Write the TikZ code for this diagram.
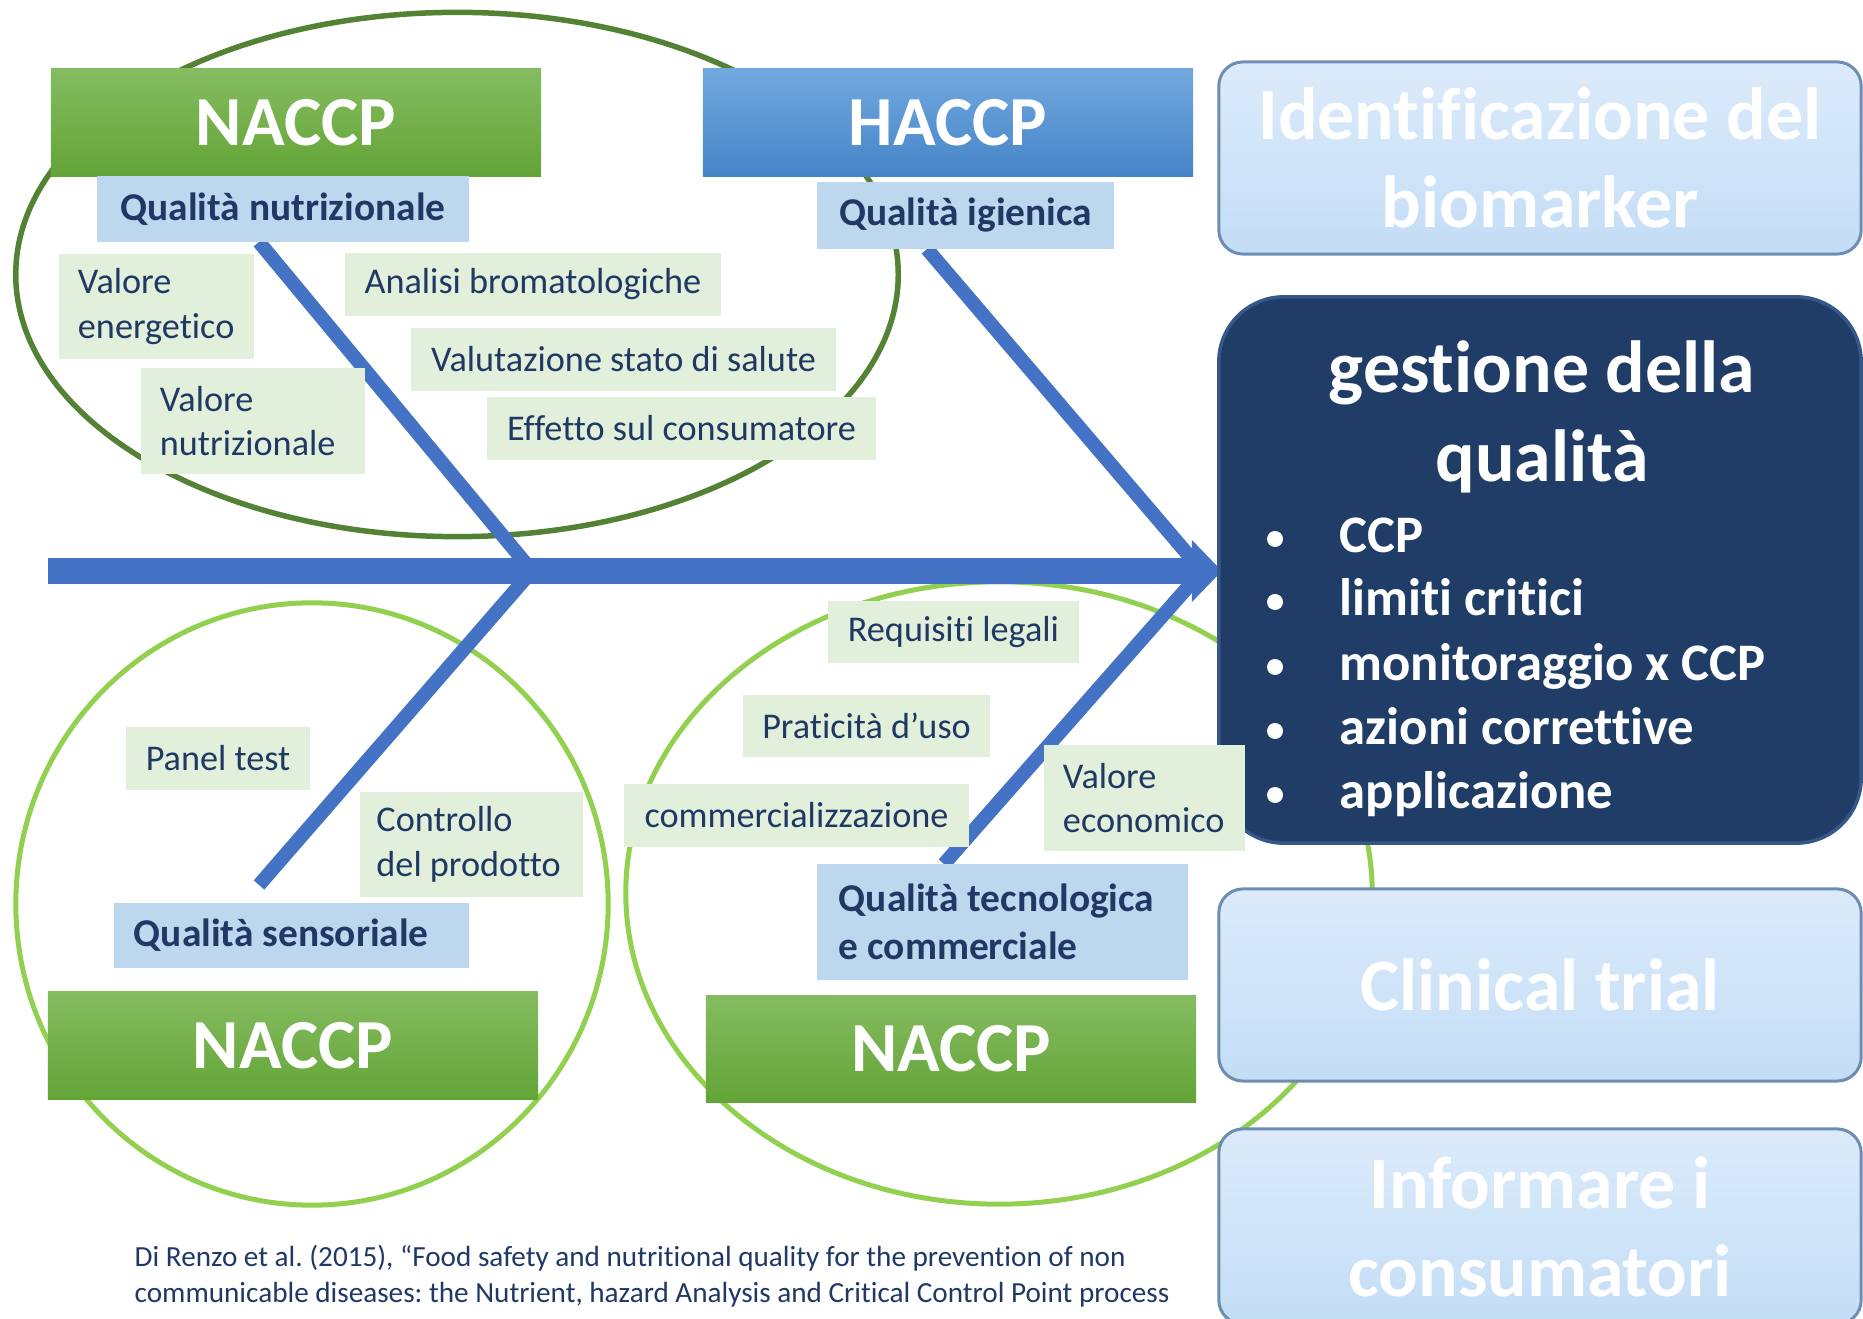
\documentclass[tikz,border=0pt]{standalone}
\usepackage{fontspec}
\setmainfont{Carlito}[Ligatures=NoCommon]
\usetikzlibrary{arrows.meta}
\frenchspacing

\definecolor{navy}{HTML}{1F3864}
\definecolor{labgreen}{HTML}{E2EFDA}
\definecolor{labblue}{HTML}{BDD7EE}
\definecolor{ringdark}{HTML}{548235}
\definecolor{ringlight}{HTML}{92D050}
\definecolor{spineblue}{HTML}{4472C4}
\definecolor{deepblue}{HTML}{1F3D66}
\definecolor{deepedge}{HTML}{35578A}
\definecolor{paleblue}{HTML}{C3DDF6}
\definecolor{paletop}{HTML}{DCEBFB}
\definecolor{paleedge}{HTML}{6E8DB3}
\definecolor{naccptop}{HTML}{85BC60}
\definecolor{naccpbot}{HTML}{63A437}
\definecolor{haccptop}{HTML}{72A9DF}
\definecolor{haccpbot}{HTML}{4584C8}

\tikzset{
	lab/.style={fill=labgreen, text=navy, inner sep=0pt, font=\fontsize{10.3}{12.6}\selectfont},
	qual/.style={fill=labblue, text=navy, inner sep=0pt, font=\bfseries\fontsize{11.2}{13.6}\selectfont},
	header/.style={text=white, inner sep=0pt, minimum width=4.9cm, minimum height=1.07cm, font=\bfseries\fontsize{20}{24}\selectfont},
	nacchead/.style={header, top color=naccptop, bottom color=naccpbot},
	hacchead/.style={header, top color=haccptop, bottom color=haccpbot},
	panel/.style={rounded corners=0.24cm, draw=paleedge, line width=0.03cm, top color=paletop, bottom color=paleblue, text=white, minimum width=6.42cm, align=center, inner sep=0pt, font=\bfseries\fontsize{21}{25}\selectfont},
	bone/.style={draw=spineblue, line width=0.14cm},
}

\begin{document}
\begin{tikzpicture}[x=0.01cm, y=-0.01cm]
	\useasboundingbox (0,0) rectangle (1863,1319);
	\clip (0,0) rectangle (1863,1319);
	%rings
	\draw[ringdark, line width=0.055cm] (457,274.5) ellipse [x radius=4.41cm, y radius=2.62cm];
	\draw[ringlight, line width=0.05cm] (312,904) ellipse [x radius=2.96cm, y radius=3.01cm];
	\draw[ringlight, line width=0.05cm] (999,893) ellipse [x radius=3.73cm, y radius=3.11cm];
	
	%headers
	\node[nacchead] (naccpnw) at (296,122.5) {NACCP};
	\node[hacchead] (haccp) at (948,122.5) {HACCP};
	\node[nacchead] (naccpsw) at (293,1045.5) {NACCP};
	\node[nacchead] (naccpse) at (951,1049) {NACCP};
	
	%bones
	\coordinate (tail) at (48,571);
	\coordinate (head) at (1222,571);
	\coordinate (jleft) at (532,571);
	\coordinate (jright) at (1202,571);
	\coordinate (nutrifoot) at (259,242);
	\coordinate (igienfoot) at (927,249);
	\coordinate (sensfoot) at (259,885);
	\coordinate (tecnfoot) at (944,864);
	\draw[bone] (nutrifoot) -- (jleft);
	\draw[bone] (igienfoot) -- (jright);
	\draw[bone] (sensfoot) -- (jleft);
	\draw[bone] (tecnfoot) -- (jright);
	%spine
	\draw[spineblue, line width=0.26cm, -{Triangle[length=0.3cm, width=0.6cm]}] (tail) -- (head);
	
	%qualities
	\node[qual, minimum width=3.72cm, minimum height=0.66cm] (nutri) at (283,209) {Qualità nutrizionale};
	\node[qual, minimum width=2.97cm, minimum height=0.67cm] (igien) at (965.5,215.5) {Qualità igienica};
	\node[qual, minimum width=3.55cm, minimum height=0.65cm, text width=3.15cm, align=flush left] (senso) at (291.5,935.5) {Qualità sensoriale};
	\node[qual, minimum width=3.71cm, minimum height=1.16cm, text width=3.27cm, align=flush left] (tecno) at (1002.5,922) {Qualità tecnologica\\e commerciale};
	
	%right panels
	\node[panel, minimum height=1.92cm] (biomark) at (1540,158) {Identificazione del\\biomarker};
	\node[draw=deepedge, fill=deepblue, rounded corners=0.65cm, line width=0.035cm, minimum width=6.42cm, minimum height=5.46cm] (gest) at (1540,570) {};
	\node[panel, minimum height=1.92cm] (clinic) at (1540,985) {Clinical trial};
	\node[panel, minimum height=1.95cm] (inform) at (1540,1226.5) {Informare i\\consumatori};
	
	\node[text=white, align=center, inner sep=0pt, font=\bfseries\fontsize{21}{25.5}\selectfont] (gesttitle) at (1542,417) {gestione della\\qualità};
	\foreach \y/\txt [count=\i] in {539/CCP, 602/limiti critici, 667/monitoraggio x CCP, 731/azioni correttive, 795/applicazione}{
		\fill[white] (1275,\y) circle (0.08cm);
		\node[anchor=base west, text=white, inner sep=0pt, font=\bfseries\fontsize{15}{18}\selectfont] (bul\i) at (1339,\y+14) {\txt};
	}
	
	%labels
	\node[lab, minimum width=1.95cm, minimum height=1.05cm, text width=1.57cm, align=flush left] (energ) at (156.5,306.5) {Valore\\energetico};
	\node[lab, minimum width=2.24cm, minimum height=1.06cm, text width=1.86cm, align=flush left] (nutval) at (253,421) {Valore\\nutrizionale};
	\node[lab, minimum width=3.76cm, minimum height=0.63cm] (analisi) at (533,284.5) {Analisi bromatologiche};
	\node[lab, minimum width=4.25cm, minimum height=0.63cm] (salute) at (623.5,359.5) {Valutazione stato di salute};
	\node[lab, minimum width=3.89cm, minimum height=0.63cm] (effetto) at (681.5,428.5) {Effetto sul consumatore};
	\node[lab, minimum width=1.84cm, minimum height=0.63cm] (paneltest) at (218,758.5) {Panel test};
	\node[lab, minimum width=2.23cm, minimum height=1.05cm, text width=1.9cm, align=flush left] (controllo) at (471.5,844.5) {Controllo\\del prodotto};
	\node[lab, minimum width=2.51cm, minimum height=0.62cm] (requisiti) at (953.5,632) {Requisiti legali};
	\node[lab, minimum width=2.47cm, minimum height=0.62cm] (pratic) at (866.5,726) {Praticità d’uso};
	\node[lab, minimum width=3.45cm, minimum height=0.63cm] (comm) at (796.5,815.5) {commercializzazione};
	\node[lab, minimum width=2.01cm, minimum height=1.06cm, text width=1.63cm, align=flush left] (econ) at (1144.5,798) {Valore\\economico};
	
	%source
	\node[anchor=base west, text=navy, inner sep=0pt, font=\fontsize{8.3}{10.2}\selectfont] (cite1) at (134,1266) {Di Renzo et al. (2015), “Food safety and nutritional quality for the prevention of non};
	\node[anchor=base west, text=navy, inner sep=0pt, font=\fontsize{8.3}{10.2}\selectfont] (cite2) at (134,1302) {communicable diseases: the Nutrient, hazard Analysis and Critical Control Point process};
\end{tikzpicture}
\end{document}
